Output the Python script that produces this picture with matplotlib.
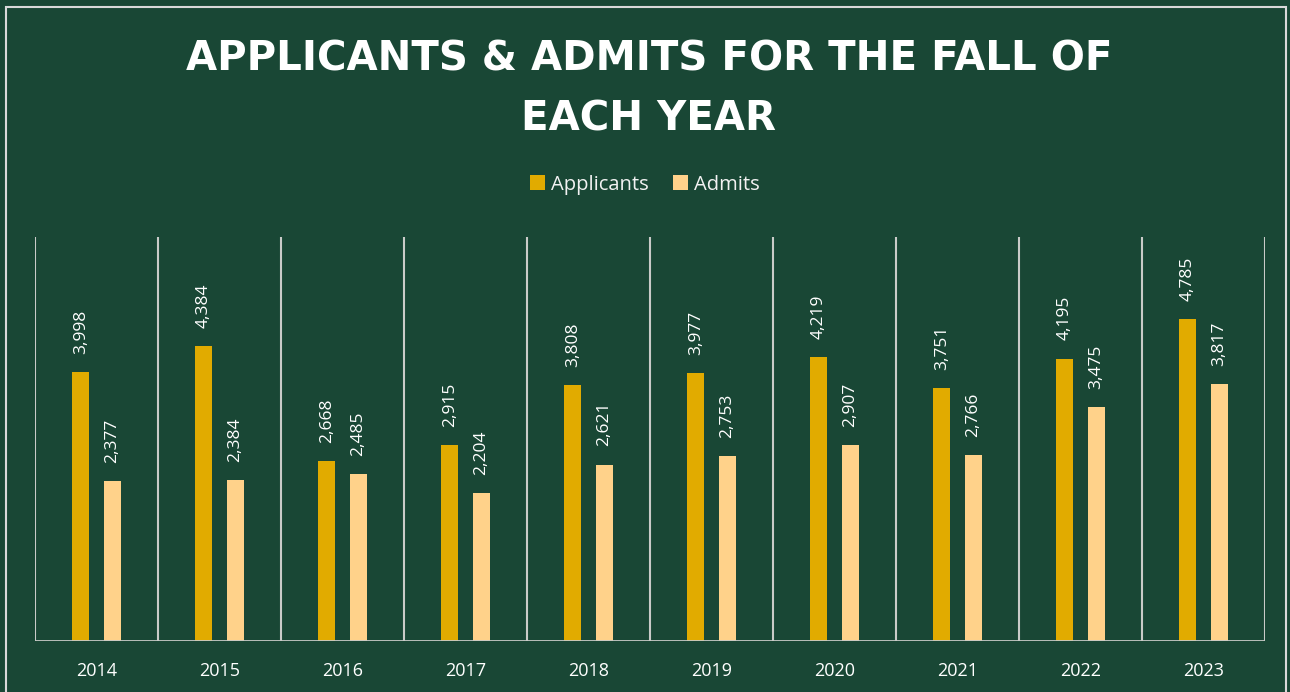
import matplotlib.pyplot as plt
import matplotlib.patches as patches
import numpy as np

# Chart data
years = ["2014", "2015", "2016", "2017", "2018", "2019", "2020", "2021", "2022", "2023"]
applicants = [3998, 4384, 2668, 2915, 3808, 3977, 4219, 3751, 4195, 4785]
admits = [2377, 2384, 2485, 2204, 2621, 2753, 2907, 2766, 3475, 3817]

bg = "#194735"
gold = "#E1AB00"
peach = "#FFD28A"
grid_col = "#C9CBC8"

fig = plt.figure(figsize=(12.9, 6.92), dpi=100, facecolor=bg)
# thin light frame around the chart
fig.patches.append(patches.Rectangle((0.005, -0.01), 0.992, 1.0, transform=fig.transFigure,
                                     fill=False, edgecolor="#D9D9D9", linewidth=1.5))

ax = fig.add_axes([0.0271, 0.0737, 0.9535, 0.5838])
ax.set_facecolor(bg)

x = np.arange(len(years))
w = 0.135
off = 0.128
ax.bar(x - off, applicants, width=w, color=gold, label="Applicants", zorder=3)
ax.bar(x + off, admits, width=w, color=peach, label="Admits", zorder=3)

# value labels, rotated above bars
for xi, a, b in zip(x, applicants, admits):
    ax.annotate(f"{a:,}", (xi - off, a), xytext=(0, 13), textcoords="offset points",
                rotation=90, ha="center", va="bottom", color="white", fontsize=12.5,
                family="Open Sans")
    ax.annotate(f"{b:,}", (xi + off, b), xytext=(0, 13), textcoords="offset points",
                rotation=90, ha="center", va="bottom", color="white", fontsize=12.5,
                family="Open Sans")

ax.set_xlim(-0.5, len(years) - 0.5)
ax.set_ylim(0, 6000)

# vertical separators between years
for xv in np.arange(-0.5, len(years), 1.0):
    ax.axvline(xv, color=grid_col, linewidth=1.5, zorder=1)
ax.axhline(0, color=grid_col, linewidth=2, zorder=4)

for s in ax.spines.values():
    s.set_visible(False)
ax.set_yticks([])
ax.set_xticks(x)
ax.set_xticklabels(years, color="white", fontsize=13, family="Open Sans")
ax.tick_params(axis="x", length=0, pad=15)

fig.text(0.503, 0.871, "APPLICANTS & ADMITS FOR THE FALL OF\nEACH YEAR", ha="center",
         va="center", color="white", fontsize=29, fontweight="bold", family="DejaVu Sans",
         linespacing=1.66)

leg = fig.legend(loc="center", bbox_to_anchor=(0.5, 0.733), ncol=2, frameon=False,
                 handlelength=0.75, handleheight=0.75, handletextpad=0.3,
                 columnspacing=1.2, prop={"family": "Open Sans", "size": 14.5})
for t in leg.get_texts():
    t.set_color("#F2F2F2")

fig.savefig("out.png", dpi=100, facecolor=bg)
